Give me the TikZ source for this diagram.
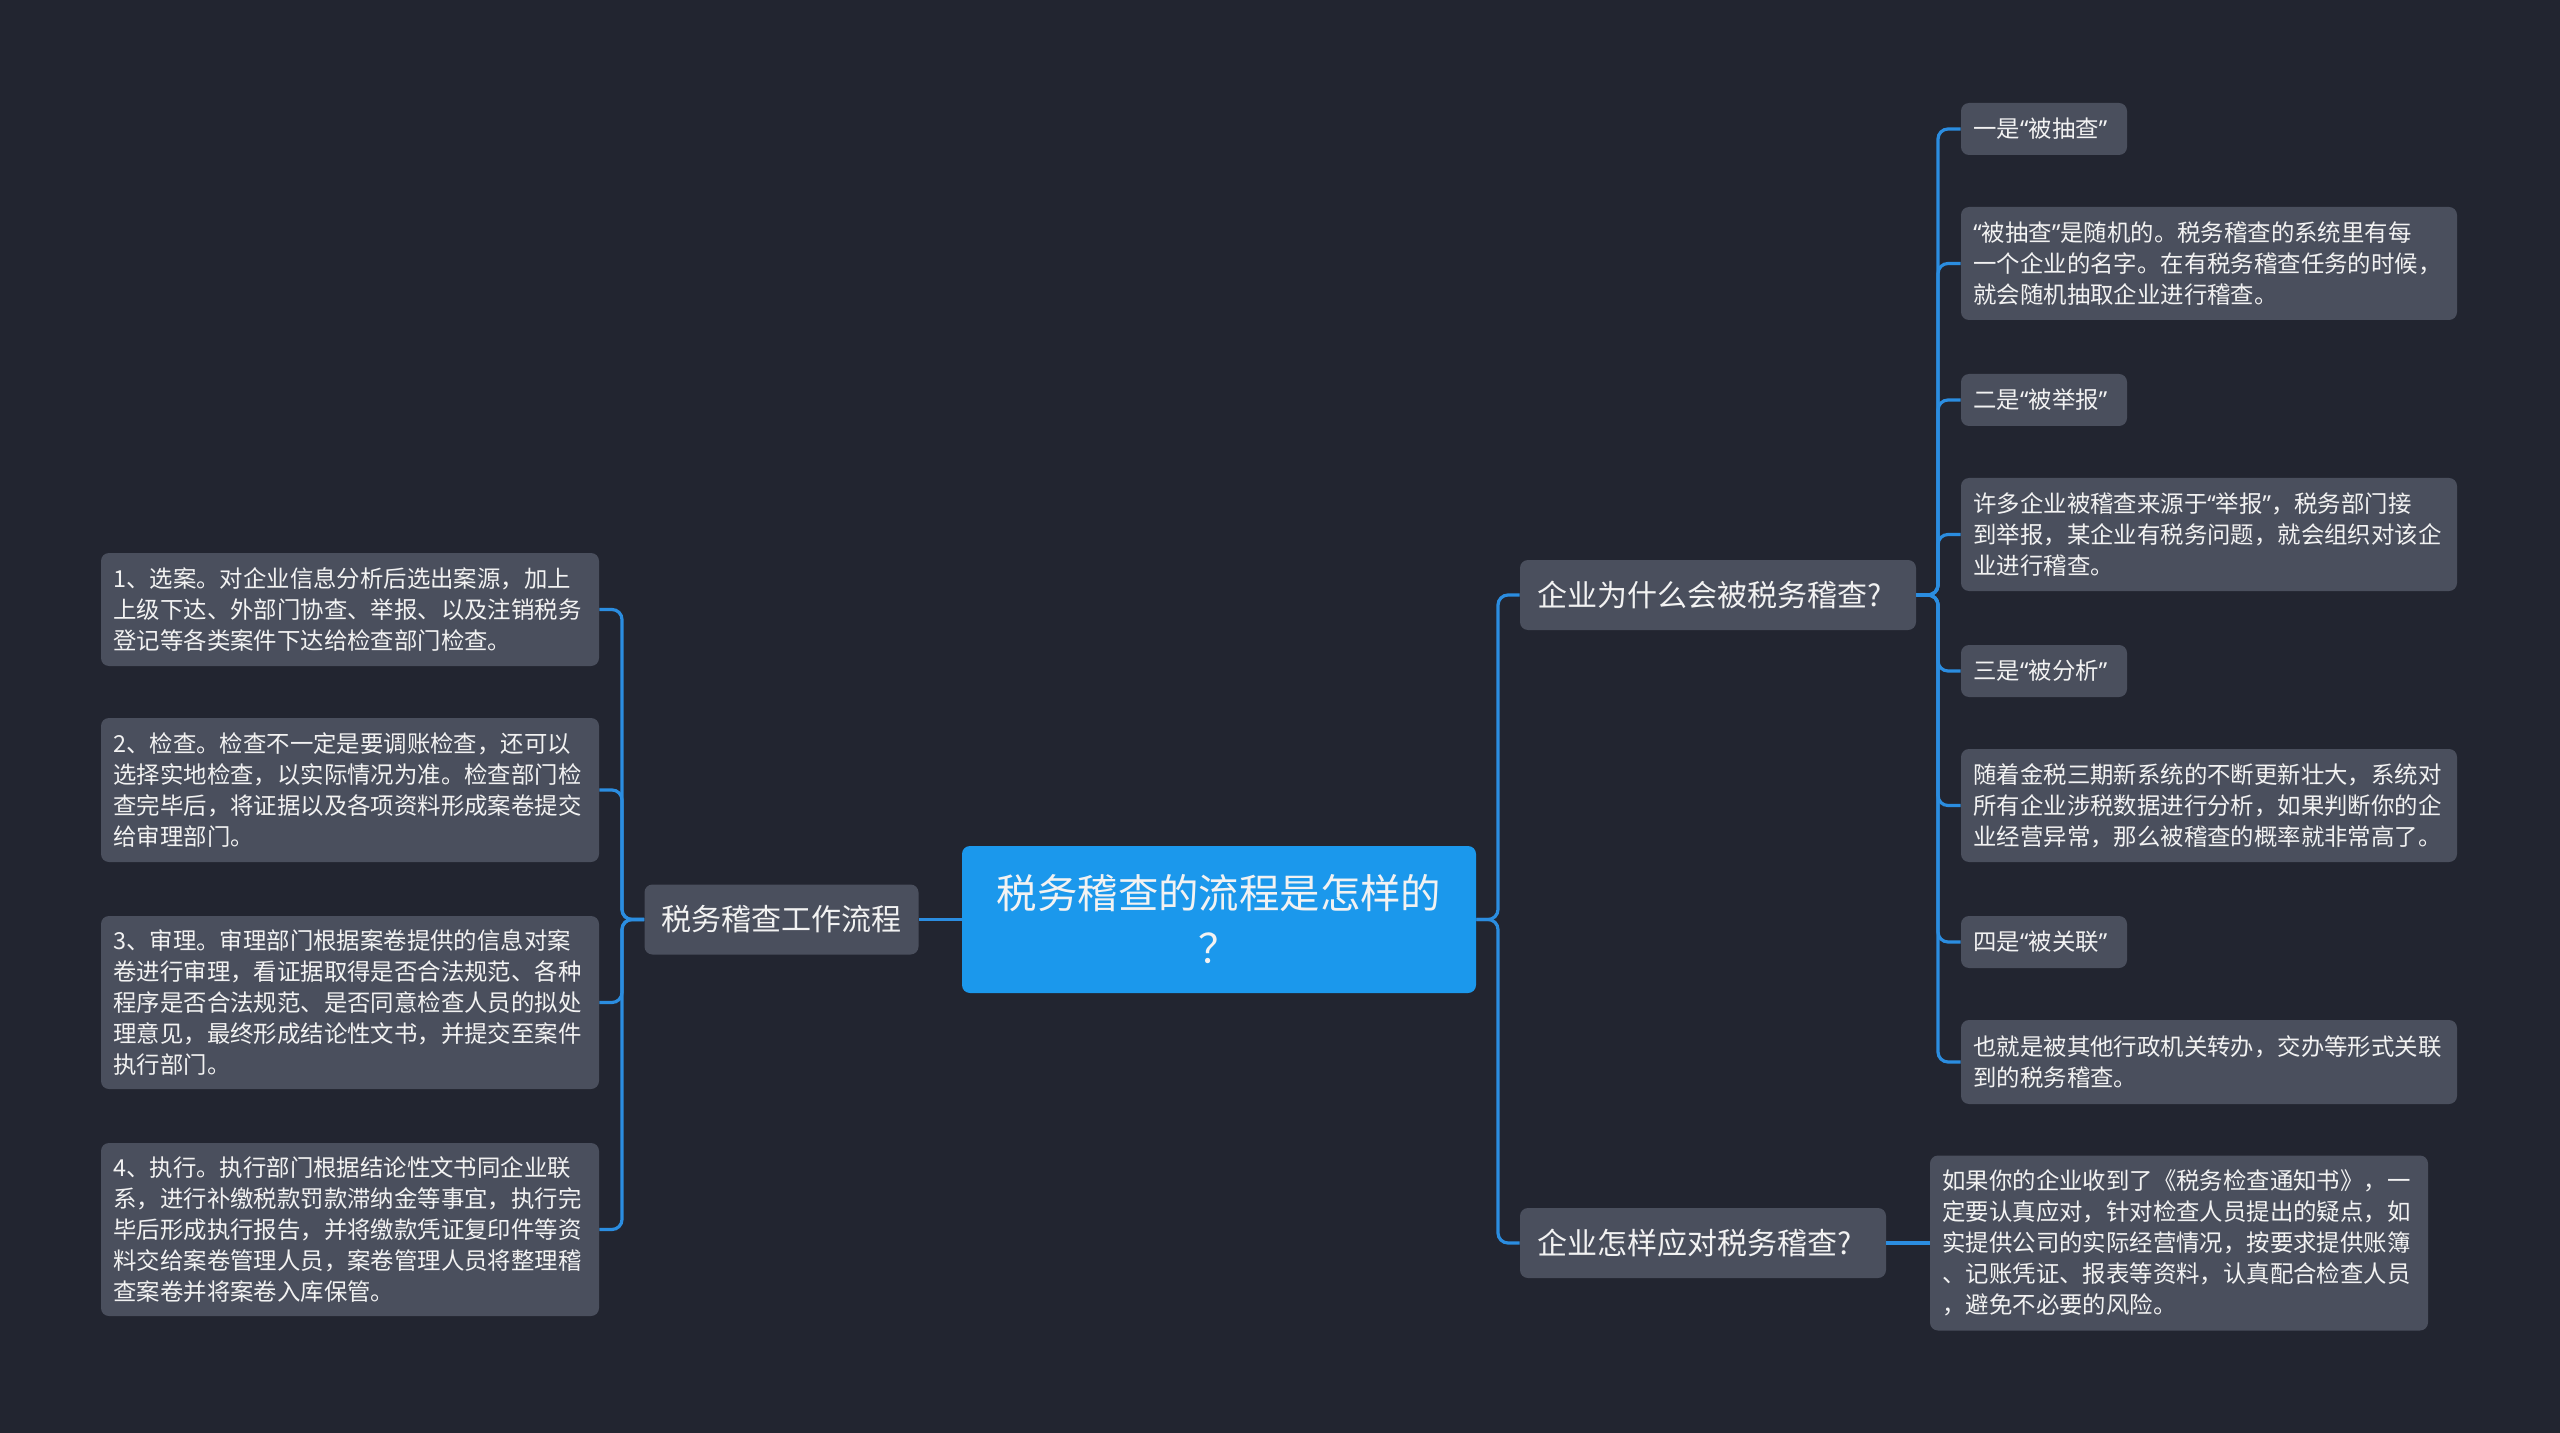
\documentclass[tikz,border=0pt]{standalone}
\usepackage{fontspec}
\newfontfamily\cjk{Noto Sans CJK SC}
\newfontfamily\latin{Noto Sans}
\usepackage{tikz}
\usetikzlibrary{calc,positioning}

\definecolor{bgc}{RGB}{34,37,48}
\definecolor{boxc}{RGB}{74,79,93}
\definecolor{linec}{RGB}{43,141,224}
\definecolor{rootc}{RGB}{27,152,236}
\definecolor{txtc}{RGB}{242,242,242}

% narrow quote marks
\newcommand{\qo}{{\latin“}}
\newcommand{\qc}{{\latin”}}

\begin{document}
\begin{tikzpicture}[
  x=0.5pt, y=-0.5pt,
  every node/.style={text=txtc, inner ysep=0pt},
  root/.style={fill=rootc, rounded corners=4pt, align=center, text width=240pt,
    minimum width=257pt, minimum height=73.5pt,
    font=\cjk\fontsize{20.2}{27.5}\selectfont},
  topic/.style={fill=boxc, rounded corners=4pt, align=left, inner xsep=8.5pt,
    minimum height=35pt, font=\cjk\fontsize{15}{18}\selectfont},
  leaf/.style={fill=boxc, rounded corners=4pt, align=left, inner xsep=6.2pt,
    font=\cjk\fontsize{11.7}{15.5}\selectfont},
  link/.style={draw=linec, line width=1.6pt, rounded corners=5pt}
]

\fill[bgc] (0,0) rectangle (2560,1433);
\useasboundingbox (0,0) rectangle (2560,1433);

% --- centre ---
\node[root] (root) at (1219,919.5) {税务稽查的流程是怎样的\\？};

% --- left side ---
\node[topic, text width=120pt] (flow) at (781.5,919.5) {税务稽查工作流程};

\node[leaf, text width=236.6pt, minimum height=56.5pt] (l1) at (350,609.5)
  {1、选案。对企业信息分析后选出案源，加上\\上级下达、外部门协查、举报、以及注销税务\\登记等各类案件下达给检查部门检查。};
\node[leaf, text width=236.6pt, minimum height=72pt] (l2) at (350,790)
  {2、检查。检查不一定是要调账检查，还可以\\选择实地检查，以实际情况为准。检查部门检\\查完毕后，将证据以及各项资料形成案卷提交\\给审理部门。};
\node[leaf, text width=236.6pt, minimum height=86.5pt] (l3) at (350,1002.5)
  {3、审理。审理部门根据案卷提供的信息对案\\卷进行审理，看证据取得是否合法规范、各种\\程序是否合法规范、是否同意检查人员的拟处\\理意见，最终形成结论性文书，并提交至案件\\执行部门。};
\node[leaf, text width=236.6pt, minimum height=86.5pt] (l4) at (350,1229.5)
  {4、执行。执行部门根据结论性文书同企业联\\系，进行补缴税款罚款滞纳金等事宜，执行完\\毕后形成执行报告，并将缴款凭证复印件等资\\料交给案卷管理人员，案卷管理人员将整理稽\\查案卷并将案卷入库保管。};

% --- right side ---
\node[topic, text width=181pt, minimum width=198pt] (why) at (1718,595) {企业为什么会被税务稽查?};
\node[topic, text width=166pt, minimum width=183pt] (how) at (1703,1243) {企业怎样应对税务稽查?};

\node[leaf, text width=70.6pt, minimum height=26pt] (r1) at (2044,129) {一是\qo 被抽查\qc};
\node[leaf, text width=235.6pt, minimum height=56.5pt] (r2) at (2209,263.5)
  {\qo 被抽查\qc 是随机的。税务稽查的系统里有每\\一个企业的名字。在有税务稽查任务的时候，\\就会随机抽取企业进行稽查。};
\node[leaf, text width=70.6pt, minimum height=26pt] (r3) at (2044,400) {二是\qo 被举报\qc};
\node[leaf, text width=235.6pt, minimum height=56.5pt] (r4) at (2209,534.5)
  {许多企业被稽查来源于\qo 举报\qc ，税务部门接\\到举报，某企业有税务问题，就会组织对该企\\业进行稽查。};
\node[leaf, text width=70.6pt, minimum height=26pt] (r5) at (2044,671) {三是\qo 被分析\qc};
\node[leaf, text width=235.6pt, minimum height=56.5pt] (r6) at (2209,805.5)
  {随着金税三期新系统的不断更新壮大，系统对\\所有企业涉税数据进行分析，如果判断你的企\\业经营异常，那么被稽查的概率就非常高了。};
\node[leaf, text width=70.6pt, minimum height=26pt] (r7) at (2044,942) {四是\qo 被关联\qc};
\node[leaf, text width=235.6pt, minimum height=42pt] (r8) at (2209,1062)
  {也就是被其他行政机关转办，交办等形式关联\\到的税务稽查。};

\node[leaf, text width=236.6pt, minimum height=87.5pt] (r9) at (2179,1243)
  {如果你的企业收到了《税务检查通知书》，一\\定要认真应对，针对检查人员提出的疑点，如\\实提供公司的实际经营情况，按要求提供账簿\\、记账凭证、报表等资料，认真配合检查人员\\，避免不必要的风险。};

% --- connectors ---
\coordinate (tL) at (622,0);
\coordinate (tM) at (1498,0);
\coordinate (tR) at (1938,0);

\draw[link] (root.west) -- (flow.east);
\draw[link] (flow.west) -- (flow.west -| tL) |- (l1.east);
\draw[link] (flow.west) -- (flow.west -| tL) |- (l2.east);
\draw[link] (flow.west) -- (flow.west -| tL) |- (l3.east);
\draw[link] (flow.west) -- (flow.west -| tL) |- (l4.east);

\draw[link] (root.east) -- (root.east -| tM) |- (why.west);
\draw[link] (root.east) -- (root.east -| tM) |- (how.west);

\draw[link] (why.east) -- (why.east -| tR) |- (r1.west);
\draw[link] (why.east) -- (why.east -| tR) |- (r2.west);
\draw[link] (why.east) -- (why.east -| tR) |- (r3.west);
\draw[link] (why.east) -- (why.east -| tR) |- (r4.west);
\draw[link] (why.east) -- (why.east -| tR) |- (r5.west);
\draw[link] (why.east) -- (why.east -| tR) |- (r6.west);
\draw[link] (why.east) -- (why.east -| tR) |- (r7.west);
\draw[link] (why.east) -- (why.east -| tR) |- (r8.west);
\draw[link] (how.east) -- (r9.west);

\end{tikzpicture}
\end{document}
